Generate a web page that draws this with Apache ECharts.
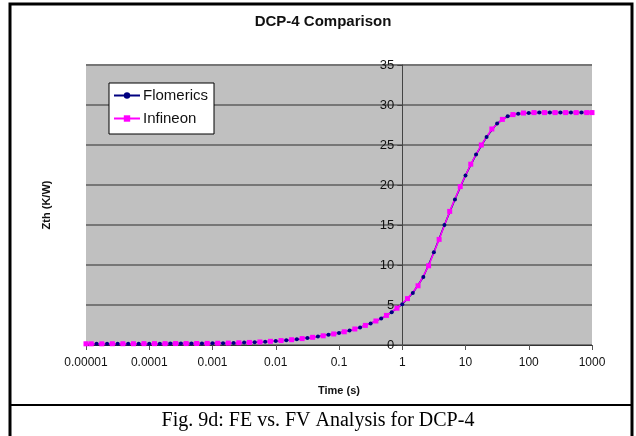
<!DOCTYPE html>
<html><head><meta charset="utf-8">
<script src="https://cdn.jsdelivr.net/npm/echarts@6/dist/echarts.min.js"></script>
<style>html,body{margin:0;padding:0;background:#fff}#c{width:636px;height:436px}</style>
</head><body><div id="c"></div>
<script>
var xTickLabels = ['0.00001','0.0001','0.001','0.01','0.1','1','10','100','1000'];
var yTicks = [0,5,10,15,20,25,30,35];

var flomericsTime = [
 1e-5,1.468e-5,2.154e-5,3.162e-5,4.642e-5,6.813e-5,
 1e-4,1.468e-4,2.154e-4,3.162e-4,4.642e-4,6.813e-4,
 1e-3,1.468e-3,2.154e-3,3.162e-3,4.642e-3,6.813e-3,
 1e-2,1.468e-2,2.154e-2,3.162e-2,4.642e-2,6.813e-2,
 0.1,0.1468,0.2154,0.3162,0.4642,0.6813,
 1,1.468,2.154,3.162,4.642,6.813,
 10,14.68,21.54,31.62,46.42,68.13,
 100,146.8,215.4,316.2,464.2,681.3,
 1000];
var flomericsZth = [
 0.15,0.15,0.15,0.16,0.16,0.16,
 0.17,0.17,0.18,0.18,0.19,0.20,
 0.21,0.23,0.26,0.30,0.35,0.42,
 0.50,0.60,0.72,0.88,1.05,1.27,
 1.5,1.8,2.2,2.7,3.3,4.1,
 5.1,6.5,8.5,11.6,15.0,18.2,
 21.2,23.8,26.0,27.7,28.6,28.9,
 29.0,29.05,29.05,29.05,29.05,29.05,
 29.05];

var infineonTime = [
 1e-5,
 1.2115e-5,1.778e-5,2.61e-5,3.83e-5,5.62e-5,8.25e-5,
 1.2115e-4,1.778e-4,2.61e-4,3.83e-4,5.62e-4,8.25e-4,
 1.2115e-3,1.778e-3,2.61e-3,3.83e-3,5.62e-3,8.25e-3,
 1.2115e-2,1.778e-2,2.61e-2,3.83e-2,5.62e-2,8.25e-2,
 0.12115,0.1778,0.261,0.383,0.562,0.825,
 1.2115,1.778,2.61,3.83,5.62,8.25,
 12.115,17.78,26.1,38.3,56.2,82.5,
 121.15,177.8,261,383,562,825,
 1000];
var infineonZth = [
 0.15,
 0.15,0.15,0.16,0.16,0.16,0.17,
 0.17,0.17,0.18,0.18,0.19,0.20,
 0.22,0.24,0.28,0.32,0.38,0.46,
 0.55,0.66,0.80,0.96,1.15,1.38,
 1.65,2.0,2.45,3.0,3.7,4.6,
 5.8,7.4,9.9,13.2,16.7,19.8,
 22.6,25.0,27.0,28.2,28.8,29.0,
 29.05,29.05,29.05,29.05,29.05,29.05,
 29.05];

function pairs(xs, ys){ return xs.map(function(x,i){ return [x, ys[i]]; }); }

var gridL = 86, gridR = 44, gridT = 65, gridB = 91;
var W = 636;
var yAxisOffset = -((W - gridL - gridR) * 5 / 8); // y axis crosses at time = 1

var chart = echarts.init(document.getElementById('c'), null, {renderer:'canvas'});
chart.setOption({
  animation:false,
  backgroundColor:'#ffffff',
  title:{
    text:'DCP-4 Comparison', left:318, top:9, textAlign:'center',
    textStyle:{fontFamily:'Liberation Sans, Arial, sans-serif', fontWeight:'bold', fontSize:15, color:'#111'}
  },
  grid:{left:gridL, right:gridR, top:gridT, bottom:gridB, show:true, backgroundColor:'#c0c0c0', borderWidth:0},
  legend:{
    orient:'vertical', left:109, top:83, padding:[5,6,8,4], itemGap:8,
    backgroundColor:'#ffffff', borderColor:'#000', borderWidth:1,
    itemWidth:26, itemHeight:8,
    textStyle:{fontFamily:'Liberation Sans, Arial, sans-serif', fontSize:15, color:'#111', padding:[0,0,0,-2]},
    data:['Flomerics','Infineon']
  },
  xAxis:{
    type:'log', logBase:10, min:1e-5, max:1000,
    name:'Time (s)', nameLocation:'middle', nameGap:40,
    nameTextStyle:{fontFamily:'Liberation Sans, Arial, sans-serif', fontWeight:'bold', fontSize:11, color:'#111'},
    axisLine:{show:true, lineStyle:{color:'#333', width:1}},
    axisTick:{show:true, inside:false, length:5, lineStyle:{color:'#555'}},
    splitLine:{show:false},
    axisLabel:{
      margin:12, color:'#111', fontFamily:'Liberation Sans, Arial, sans-serif', fontSize:12,
      formatter:function(v){ var i = Math.round(Math.log10(v)) + 5; return xTickLabels[i] || ''; }
    }
  },
  yAxis:{
    type:'value', min:yTicks[0], max:yTicks[yTicks.length-1], interval:5,
    position:'left', offset:yAxisOffset,
    axisLine:{show:true, lineStyle:{color:'#444', width:1}},
    axisTick:{show:true, inside:false, length:5, lineStyle:{color:'#444'}},
    splitLine:{show:true, lineStyle:{color:'#767676', width:2}},
    axisLabel:{margin:8, color:'#111', fontFamily:'Liberation Sans, Arial, sans-serif', fontSize:13}
  },
  series:[
    {name:'Flomerics', type:'line', data:pairs(flomericsTime, flomericsZth),
     symbol:'circle', symbolSize:4, showAllSymbol:true,
     itemStyle:{color:'#000080'}, lineStyle:{color:'#000080', width:1.5}},
    {name:'Infineon', type:'line', data:pairs(infineonTime, infineonZth),
     symbol:'rect', symbolSize:5, showAllSymbol:true,
     itemStyle:{color:'#ff00ff'}, lineStyle:{color:'#ff00ff', width:1.5}}
  ],
  graphic:[
    {type:'rect', shape:{x:10, y:4, width:622, height:440}, style:{fill:'none', stroke:'#000', lineWidth:3}, silent:true},
    {type:'line', shape:{x1:10, y1:405, x2:632, y2:405}, style:{stroke:'#000', lineWidth:2}, silent:true},
    {type:'text', x:318, y:421, style:{text:'Fig. 9d: FE vs. FV Analysis for DCP-4', font:'20px "Liberation Serif", "Times New Roman", serif', fill:'#000', textAlign:'center', textVerticalAlign:'middle'}},
    {type:'text', x:47, y:205, rotation:Math.PI/2, style:{text:'Zth (K/W)', font:'bold 11px "Liberation Sans", Arial, sans-serif', fill:'#111', textAlign:'center', textVerticalAlign:'middle'}}
  ]
});
</script></body></html>
